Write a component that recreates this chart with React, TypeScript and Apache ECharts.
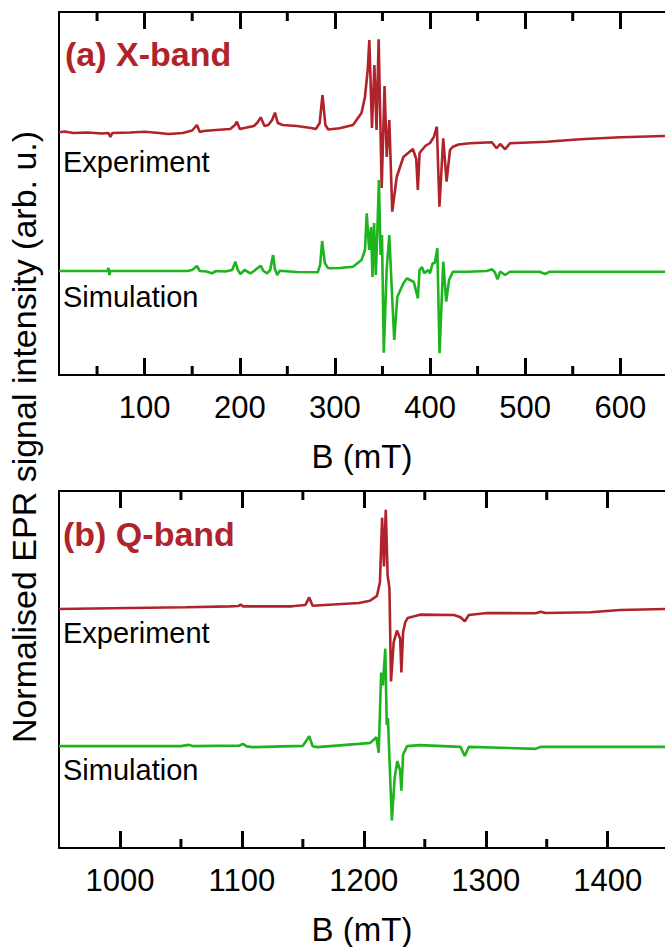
import React, { useEffect, useRef } from "react";
import * as echarts from "echarts";

// ---- X-band (a) ----  [B (mT), intensity (arb. u.)]
const xbandExperiment: [number, number][] = [
  [10, 242.7], [16, 243.5], [25, 242], [40, 242.5], [55, 241.5], [62, 242], [64, 238], [66, 242],
  [85, 242.5], [100, 243.3], [115, 242], [125, 241], [140, 242], [150, 244.5], [155, 250], [158, 243],
  [162, 244], [175, 245], [190, 246], [195, 250], [197, 253.3], [200, 246], [205, 247], [215, 249],
  [219, 253], [222, 257.7], [226, 249], [230, 250], [234, 255], [237, 262.3], [240, 252], [245, 250],
  [260, 249], [275, 247], [280, 246], [284, 252], [287, 280], [290, 250], [293, 245.5], [305, 246.7],
  [319, 250], [328, 262], [331.6, 278], [334.5, 305], [336.2, 335], [339, 247], [341.5, 310],
  [343.8, 245], [346, 335.7], [349.2, 187], [352.2, 289], [354.5, 218], [357.2, 255], [360.3, 163.3],
  [365, 198], [372, 218], [382, 226], [385.5, 216], [387.2, 185], [389, 222], [395, 229], [400, 232],
  [404, 238], [407.2, 248.3], [409.9, 168.3], [413.9, 236.7], [417.4, 193.3], [421, 225], [424, 228.3],
  [430, 230.5], [442, 231.7], [465, 232.7], [470, 226.7], [473.7, 231], [479, 225.7], [484, 231.7],
  [523, 233.3], [558, 235.7], [600, 237.7], [647, 239],
];
const xbandSimulation: [number, number][] = [
  [10, 104], [40, 104], [61, 104], [62, 107], [63, 100], [64, 104], [100, 104], [145, 104], [150, 105],
  [155, 109], [158, 104], [165, 103.5], [170.8, 101.7], [175, 104], [185, 103.5], [192, 105],
  [195.4, 113.3], [198, 105], [200.7, 101], [205, 105], [211.2, 101.7], [215, 104], [221.8, 109.3],
  [225, 104], [228.8, 101.7], [232, 105], [235, 120], [237, 106], [239.3, 100], [242, 104.3],
  [260, 103], [282, 102.7], [284.5, 110], [286.6, 134], [289.5, 111.7], [293, 106.7], [305, 107],
  [319, 108.3], [328, 115], [331.6, 125], [333.5, 161.7], [336, 125], [338, 148], [339.5, 98],
  [341.2, 152], [343, 100], [344.5, 140], [346.3, 195], [348, 120], [349.5, 140], [351.4, 22.3],
  [354.4, 105], [357.2, 140], [359.5, 92], [362.4, 35], [365.6, 78], [372, 91.7], [375.8, 96.7],
  [379, 95], [383, 93], [387.2, 76.7], [389, 105], [391.5, 108], [394, 101.7], [398.2, 105],
  [400, 101.7], [402.7, 111.7], [405, 112], [407.7, 126.7], [410, 21.7], [413.9, 113.3], [417, 73.3],
  [420, 95], [424, 103.3], [440, 103.3], [459.5, 104], [465, 105.7], [468, 103], [471, 95.7],
  [473.7, 103.3], [479, 100], [484, 103.3], [515, 103.3], [521, 101], [526, 103.3], [600, 103.3],
  [647, 103.3],
];

// ---- Q-band (b) ----
const qbandExperiment: [number, number][] = [
  [950, 241], [1007, 242], [1054, 242.7], [1090, 243.7], [1097, 244], [1099, 245.5], [1101, 243.7],
  [1141, 243.7], [1152, 245], [1155.2, 252.7], [1158, 244.3], [1175, 245.5], [1196, 247],
  [1205, 249.3], [1210.8, 254.3], [1213.2, 268], [1215, 333], [1216.5, 284], [1218, 341],
  [1219.5, 275], [1221, 262], [1222.3, 168], [1224.5, 207.7], [1227.2, 219.3], [1229.8, 211],
  [1230.8, 177], [1232.2, 217.7], [1234, 227.7], [1236, 232], [1246, 235.3], [1274, 235],
  [1279.3, 232.7], [1282.8, 228.7], [1286.1, 235], [1301, 237], [1341, 236.7], [1345, 238.3],
  [1349, 237], [1386, 237.7], [1410, 240], [1447, 241],
];
const qbandSimulation: [number, number][] = [
  [950, 102.7], [1050, 102.7], [1056.7, 104], [1060, 102.7], [1098, 103.2], [1100.8, 105],
  [1104, 102.5], [1108.7, 101.7], [1150, 103], [1155.2, 112.7], [1158, 102.7], [1162, 101.7],
  [1196, 105], [1205.3, 106], [1210.3, 111.7], [1212.2, 96], [1214.2, 177], [1215.6, 164],
  [1217.6, 201], [1218.8, 124], [1219.8, 131], [1221.2, 84], [1223, 27.7], [1225.3, 71],
  [1227.5, 87.7], [1229.8, 77.7], [1230.8, 57.7], [1232.2, 94.3], [1235.5, 102.7], [1246, 103.7],
  [1279.3, 102], [1282.8, 92.7], [1286.1, 102], [1340.9, 100], [1345, 102], [1447, 102],
];

// ---- axes ----
const xbandRange = [10, 647];
const qbandRange = [950, 1447];
const xbandMajorTicks = [100, 200, 300, 400, 500, 600];
const xbandMinorTicks = [50, 150, 250, 350, 450, 550];
const qbandMajorTicks = [1000, 1100, 1200, 1300, 1400];
const qbandMinorTicks = [1050, 1150, 1250, 1350];
const xbandYRange = [0, 363];
const qbandYRange = [0, 360];

const RED = "#b0232a";
const GREEN = "#1db41d";
const FONT = '"Liberation Sans", Arial, Helvetica, sans-serif';
const W = 665;
const PLOT_LEFT = 59;
const GRID_A = { top: 12, height: 363 };
const GRID_B = { top: 491, height: 360 };
const MAJOR_LEN = 17; // px
const MINOR_LEN = 9; // px

function xAxis(gridIndex: number, range: number[], ticks: number[], position: string, withLabels: boolean) {
  return {
    type: "value",
    gridIndex,
    position,
    min: range[0],
    max: range[1],
    axisLine: { show: true, onZero: false, lineStyle: { color: "#000", width: 2 } },
    axisTick: { show: true, inside: true, length: MAJOR_LEN, customValues: ticks, lineStyle: { color: "#000", width: 3 } },
    axisLabel: withLabels
      ? { show: true, customValues: ticks, color: "#000", fontSize: 31, fontFamily: FONT, margin: 17, formatter: (v: number) => String(v) }
      : { show: false },
    splitLine: { show: false },
    name: withLabels ? "B (mT)" : "",
    nameLocation: "middle",
    nameGap: 65,
    nameTextStyle: { color: "#000", fontSize: 33, fontFamily: FONT },
  };
}
function yAxis(gridIndex: number, range: number[]) {
  return {
    type: "value",
    gridIndex,
    min: range[0],
    max: range[1],
    axisLine: { show: true, onZero: false, lineStyle: { color: "#000", width: 2 } },
    axisTick: { show: false },
    axisLabel: { show: false },
    splitLine: { show: false },
  };
}

function lineSeries(name: string, xAxisIndex: number, yAxisIndex: number, data: any[], color: string, width = 2.6) {
  return {
    name,
    type: "line",
    xAxisIndex,
    yAxisIndex,
    data,
    showSymbol: false,
    connectNulls: false,
    lineStyle: { color, width },
    itemStyle: { color },
  };
}

// inward minor tick marks on bottom and top frame lines, as broken segments on the axis scales
function minorTickData(minor: number[], yRange: number[], gridHeight: number) {
  const d = MINOR_LEN * (yRange[1] - yRange[0]) / gridHeight;
  const out: any[] = [];
  minor.forEach((v) => {
    out.push([v, yRange[0]], [v, yRange[0] + d], [v, "-"]);
    out.push([v, yRange[1]], [v, yRange[1] - d], [v, "-"]);
  });
  return out;
}

function text(x: number, y: number, str: string, size: number, color: string, bold = false, rotation = 0) {
  return {
    type: "text",
    x,
    y,
    rotation,
    style: {
      text: str,
      fill: color,
      font: `${bold ? "bold " : ""}${size}px ${FONT}`,
      align: rotation ? "center" : "left",
      textAlign: rotation ? "center" : "left",
      verticalAlign: "middle",
      textVerticalAlign: "middle",
    },
  };
}

export default function App() {
  const ref = useRef<HTMLDivElement>(null);
  useEffect(() => {
    if (!ref.current) return;
    const chart = echarts.init(ref.current, null, { renderer: "svg" });
    chart.setOption({
      animation: false,
      backgroundColor: "#fff",
      grid: [
        { left: PLOT_LEFT, right: 0, ...GRID_A },
        { left: PLOT_LEFT, right: 0, ...GRID_B },
      ],
      xAxis: [
        xAxis(0, xbandRange, xbandMajorTicks, "bottom", true),
        xAxis(0, xbandRange, xbandMajorTicks, "top", false),
        xAxis(1, qbandRange, qbandMajorTicks, "bottom", true),
        xAxis(1, qbandRange, qbandMajorTicks, "top", false),
      ],
      yAxis: [yAxis(0, xbandYRange), yAxis(1, qbandYRange)],
      series: [
        lineSeries("X-band experiment", 0, 0, xbandExperiment, RED),
        lineSeries("X-band simulation", 0, 0, xbandSimulation, GREEN),
        lineSeries("Q-band experiment", 2, 1, qbandExperiment, RED),
        lineSeries("Q-band simulation", 2, 1, qbandSimulation, GREEN),
        lineSeries("X-band minor ticks", 0, 0, minorTickData(xbandMinorTicks, xbandYRange, GRID_A.height), "#000", 3),
        lineSeries("Q-band minor ticks", 2, 1, minorTickData(qbandMinorTicks, qbandYRange, GRID_B.height), "#000", 3),
      ],
      graphic: [
        text(24, 437, "Normalised EPR signal intensity (arb. u.)", 34, "#000", false, Math.PI / 2),
        text(65, 54, "(a) X-band", 34, RED, true),
        text(63, 162, "Experiment", 29, "#000"),
        text(63, 297, "Simulation", 29, "#000"),
        text(63, 534, "(b) Q-band", 34, RED, true),
        text(63, 633, "Experiment", 29, "#000"),
        text(63, 770, "Simulation", 29, "#000"),
      ],
    });
    return () => chart.dispose();
  }, []);
  return (
    <div
      ref={ref}
      style={{ position: "fixed", left: 0, top: 0, width: W, height: 947, background: "#fff" }}
    />
  );
}
